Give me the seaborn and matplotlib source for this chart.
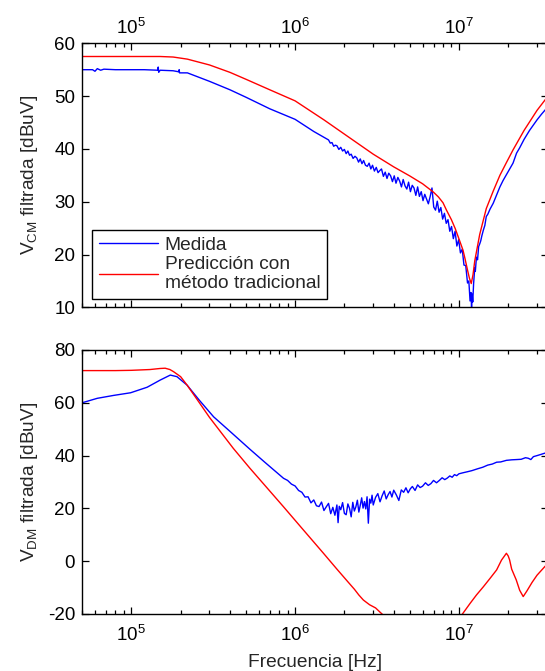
import numpy as np
import pandas as pd
import matplotlib
matplotlib.use("Agg")
import matplotlib.pyplot as plt
import seaborn as sns
from matplotlib.ticker import LogLocator, NullFormatter, FixedLocator

# ---------------- data (frequencies in MHz, levels in dBuV) ----------------
# Common-mode, measured
cm_medida_mhz = [
    0.050, 0.055, 0.058, 0.060, 0.062, 0.065, 0.068, 0.080, 0.100, 0.120,
    0.145, 0.146, 0.147, 0.150, 0.180, 0.195, 0.196, 0.197, 0.220, 0.300,
    0.400, 0.500, 0.700, 1.00, 1.30,
    1.60, 1.64, 1.68, 1.72, 1.76, 1.80, 1.85, 1.90, 1.95, 2.00,
    2.05, 2.10, 2.15, 2.20, 2.26, 2.32, 2.38, 2.44, 2.50, 2.56,
    2.62, 2.69, 2.76, 2.83, 2.90, 2.97, 3.05, 3.13, 3.21, 3.29,
    3.37, 3.46, 3.55, 3.64, 3.73, 3.83, 3.93, 4.03, 4.13, 4.24,
    4.35, 4.46, 4.57, 4.69, 4.81, 4.93, 5.06, 5.19, 5.32, 5.46,
    5.60, 5.74, 5.89, 6.04, 6.19, 6.35, 6.51, 6.68, 6.85, 7.02,
    7.20, 7.38, 7.57, 7.76, 7.96, 8.16, 8.37, 8.58, 8.80, 9.02,
    9.25, 9.48, 9.72, 9.97, 10.22, 10.48, 10.74, 11.01, 11.29, 11.50,
    11.70, 11.85, 11.95, 12.05, 12.15, 12.30, 12.50, 12.60, 12.80, 13.00,
    13.20, 13.40, 13.60, 13.80, 14.10, 14.40, 14.70, 15.00, 15.50, 16.20,
    17.00, 17.80, 18.60, 19.50, 20.50, 21.40, 22.50, 23.50, 25.00, 27.00,
    30.00, 32.00, 35.00,
]
cm_medida = [
    55.0, 55.0, 55.0, 54.7, 55.2, 54.9, 55.1, 55.0, 55.0, 55.0,
    54.9, 55.5, 54.5, 54.9, 54.8, 54.6, 55.0, 54.4, 54.4, 52.8,
    51.2, 49.8, 47.6, 45.6, 43.3,
    41.7, 41.1, 41.2, 40.5, 40.7, 40.6, 39.9, 40.3, 39.6, 39.9,
    39.1, 39.6, 38.8, 39.0, 38.2, 38.6, 38.3, 37.5, 38.1, 37.2,
    37.8, 36.9, 36.7, 37.3, 36.2, 36.9, 35.8, 36.5, 35.5, 35.9,
    36.2, 34.8, 35.6, 34.4, 35.4, 34.9, 33.8, 34.9, 33.5, 34.6,
    33.9, 32.8, 34.2, 33.0, 32.4, 33.7, 31.9, 33.1, 32.6, 31.2,
    32.8, 31.0, 31.9, 30.2, 31.4, 30.5, 29.6, 31.0, 32.6, 29.0,
    28.4, 30.1, 28.0, 28.9, 26.7, 27.8, 25.9, 26.6, 24.4, 25.3,
    23.0, 24.4, 21.6, 22.8, 20.3, 21.0, 18.0, 17.9, 14.6, 15.0,
    11.2, 12.8, 10.0, 12.5, 11.0, 14.5, 17.5, 16.8, 19.5, 19.0,
    21.5, 22.0, 22.6, 23.5, 24.6, 25.5, 27.2, 27.6, 28.6, 29.7,
    31.3, 32.8, 34.0, 35.1, 36.3, 37.3, 39.2, 40.2, 41.8, 43.5,
    45.5, 46.6, 48.0,
]

# Common-mode, prediction with the traditional method
cm_pred_mhz = [
    0.050, 0.100, 0.150, 0.180, 0.220, 0.300, 0.400, 0.500, 0.700, 1.00,
    1.50, 2.00, 3.00, 4.00, 5.00, 6.00, 7.00, 7.50, 8.00, 8.40,
    9.00, 9.50, 10.0, 10.6, 10.9, 11.3, 11.6, 11.9, 12.2, 12.5,
    12.8, 13.4, 14.1, 14.7, 16.2, 17.8, 19.5, 21.4, 25.0, 30.0,
    35.0,
]
cm_pred = [
    57.5, 57.5, 57.5, 57.4, 57.0, 55.9, 54.5, 53.2, 51.2, 49.1,
    45.5, 42.8, 39.0, 36.6, 34.9, 33.4, 31.8, 30.9, 29.8, 28.4,
    26.6, 24.9, 23.0, 20.8, 19.2, 17.0, 15.5, 14.5, 16.2, 18.8,
    20.5, 23.8, 26.5, 28.7, 32.0, 35.0, 37.4, 39.8, 43.5, 47.3,
    50.0,
]

# Differential-mode, measured
dm_medida_mhz = [
    0.050, 0.062, 0.078, 0.099, 0.125, 0.150, 0.173, 0.190, 0.219, 0.260,
    0.318, 0.400, 0.530, 0.650, 0.850,
    0.90, 0.95, 1.00, 1.05, 1.10, 1.15, 1.20, 1.25, 1.30, 1.35,
    1.40, 1.45, 1.50, 1.55, 1.60, 1.65, 1.70, 1.75, 1.80, 1.83,
    1.86, 1.90, 1.95, 2.00, 2.05, 2.10, 2.15, 2.20, 2.25, 2.30,
    2.35, 2.40, 2.45, 2.50, 2.55, 2.60, 2.65, 2.70, 2.75, 2.80,
    2.85, 2.90, 2.95, 3.00, 3.10, 3.20, 3.30, 3.40, 3.50, 3.60,
    3.70, 3.80, 3.90, 4.00, 4.15, 4.30, 4.45, 4.60, 4.75, 4.90,
    5.05, 5.20, 5.40, 5.60, 5.80, 6.00, 6.25, 6.50, 6.75, 7.00,
    7.30, 7.60, 7.90, 8.20, 8.50, 8.80, 9.10, 9.40, 9.70, 10.0,
    10.6, 11.3, 12.0, 13.0, 14.0, 15.0, 16.0, 17.0, 18.0, 19.5,
    21.0, 22.5, 24.0, 25.5, 26.5, 27.5, 28.5, 30.0, 31.5, 33.4,
    35.0,
]
dm_medida = [
    60.0, 61.7, 62.8, 63.8, 65.9, 68.6, 70.5, 69.9, 66.7, 61.0,
    54.7, 49.2, 42.4, 37.6, 31.4,
    30.6, 29.2, 28.5, 26.8, 26.1, 24.3, 24.4, 22.1, 23.2, 21.0,
    20.7, 22.4, 19.2, 20.6, 21.9, 18.0, 20.4, 17.4, 21.3, 14.6,
    20.8, 19.5, 22.2, 18.1, 17.6, 21.7, 20.0, 16.8, 22.3, 19.0,
    20.6, 23.1, 18.6, 21.2, 24.0, 20.1, 22.6, 19.8, 24.4, 14.4,
    23.5, 22.0, 25.0, 21.3, 24.2, 25.6, 22.5, 24.8, 26.6, 23.6,
    25.2, 26.4, 24.3, 26.9, 25.1, 23.0, 27.0, 26.1, 27.8, 25.9,
    27.4, 28.3, 26.8, 28.9, 27.9, 28.4, 29.7, 28.7, 29.4, 30.6,
    29.7, 30.6, 31.6, 30.9, 31.5, 32.3, 31.8, 32.8, 32.4, 33.1,
    33.5, 33.9, 34.3, 35.0, 35.6, 36.4, 36.8, 37.5, 37.6, 38.2,
    38.4, 38.5, 38.6, 39.2, 39.0, 38.5, 39.6, 40.0, 40.4, 40.9,
    41.2,
]

# Differential-mode, prediction with the traditional method
dm_pred_mhz = [
    0.050, 0.080, 0.100, 0.130, 0.150, 0.161, 0.172, 0.181, 0.200, 0.219,
    0.250, 0.300, 0.420, 0.530, 0.650, 0.850, 1.10, 1.49, 1.80, 2.10,
    2.30, 2.45, 2.61, 2.70, 2.85, 3.10, 3.30, 3.45, 4.50, 6.00,
    7.50, 9.00, 10.4, 11.7, 12.8, 14.1, 15.5, 17.0, 18.2, 19.5,
    20.0, 20.4, 21.0, 22.4, 23.5, 24.7, 26.0, 28.0, 30.0, 33.4,
    35.0,
]
dm_pred = [
    72.2, 72.2, 72.3, 72.6, 73.0, 73.1, 72.6, 71.8, 69.9, 66.7,
    61.6, 54.5, 42.7, 35.2, 28.9, 20.6, 12.5, 3.0, -3.0, -7.8,
    -10.6, -12.8, -14.7, -15.4, -16.5, -17.7, -19.3, -20.4, -27.0, -31.0,
    -31.0, -25.0, -20.4, -16.0, -12.8, -9.7, -6.5, -3.3, 0.4, 3.0,
    2.0, 0.5, -3.0, -7.1, -11.0, -13.4, -11.3, -8.0, -5.3, -2.1,
    -0.8,
]

ylabel_cm = r"V$_{\mathregular{CM}}$ filtrada [dBuV]"
ylabel_dm = r"V$_{\mathregular{DM}}$ filtrada [dBuV]"
xlabel = "Frecuencia [Hz]"
label_medida = "Medida"
label_pred = "Predicción con\nmétodo tradicional"

# ---------------- style ----------------
sns.set_style("ticks")
plt.rcParams["font.family"] = ["Liberation Sans", "DejaVu Sans"]
plt.rcParams["mathtext.fontset"] = "custom"
plt.rcParams["mathtext.rm"] = "Liberation Sans"
plt.rcParams["mathtext.it"] = "Liberation Sans:italic"
plt.rcParams["mathtext.bf"] = "Liberation Sans:bold"
plt.rcParams["axes.unicode_minus"] = False

TICK_FS = 13.5
LABEL_FS = 13.8
BLUE = "#0000FF"
RED = "#FF0000"

W, H = 545, 671
fig = plt.figure(figsize=(W / 100, H / 100), dpi=100)
fig.patch.set_facecolor("white")


def axes_px(left, top, right, bottom):
    return fig.add_axes([left / W, 1 - bottom / H, (right - left) / W, (bottom - top) / H])


ax_cm = axes_px(82, 43.3, 548, 307.3)
ax_dm = axes_px(82, 350, 548, 614)


def frame(mhz, vals):
    return pd.DataFrame({"f": np.asarray(mhz) * 1e6, "v": vals})


sns.lineplot(data=frame(cm_medida_mhz, cm_medida), x="f", y="v", ax=ax_cm,
             color=BLUE, linewidth=1.0, estimator=None, sort=False, label=label_medida)
sns.lineplot(data=frame(cm_pred_mhz, cm_pred), x="f", y="v", ax=ax_cm,
             color=RED, linewidth=1.0, estimator=None, sort=False, label=label_pred)
sns.lineplot(data=frame(dm_medida_mhz, dm_medida), x="f", y="v", ax=ax_dm,
             color=BLUE, linewidth=1.0, estimator=None, sort=False)
sns.lineplot(data=frame(dm_pred_mhz, dm_pred), x="f", y="v", ax=ax_dm,
             color=RED, linewidth=1.0, estimator=None, sort=False)

for ax in (ax_cm, ax_dm):
    ax.set_xscale("log")
    ax.set_xlim(5e4, 3.5e7)
    ax.xaxis.set_major_locator(LogLocator(base=10, numticks=12))
    ax.xaxis.set_minor_locator(LogLocator(base=10, subs=np.arange(2, 10), numticks=40))
    ax.xaxis.set_minor_formatter(NullFormatter())
    ax.tick_params(which="both", direction="in", top=True, right=True,
                   bottom=True, left=True, color="black", width=0.9,
                   labelsize=TICK_FS, labelcolor="black")
    ax.tick_params(which="major", length=5)
    ax.tick_params(which="minor", length=3)
    ax.tick_params(axis="y", pad=5)
    for s in ax.spines.values():
        s.set_visible(True)
        s.set_linewidth(1.0)
        s.set_color("black")
    ax.set_facecolor("white")
    ax.grid(False)

ax_cm.set_ylim(10, 60)
ax_cm.yaxis.set_major_locator(FixedLocator([10, 20, 30, 40, 50, 60]))
ax_cm.tick_params(axis="x", labeltop=True, labelbottom=False, pad=4)
ax_cm.set_xlabel("")
ax_cm.set_ylabel(ylabel_cm, fontsize=LABEL_FS)
ax_cm.yaxis.set_label_coords(-0.09, 0.5)

ax_dm.set_ylim(-20, 80)
ax_dm.yaxis.set_major_locator(FixedLocator([-20, 0, 20, 40, 60, 80]))
ax_dm.tick_params(axis="x", labeltop=False, labelbottom=True, pad=8)
ax_dm.set_xlabel(xlabel, fontsize=LABEL_FS, labelpad=6)
ax_dm.set_ylabel(ylabel_dm, fontsize=LABEL_FS)
ax_dm.yaxis.set_label_coords(-0.09, 0.5)

leg = ax_cm.legend(loc="lower left", bbox_to_anchor=((92 - 82) / 466, (307.3 - 299) / 264),
                   borderaxespad=0, fontsize=LABEL_FS, frameon=True, fancybox=False,
                   framealpha=1, edgecolor="black", handlelength=3.1, handletextpad=0.35,
                   borderpad=0.35, labelspacing=0.1)
leg.get_frame().set_linewidth(1.0)

fig.savefig("out.png", dpi=100, facecolor="white")
